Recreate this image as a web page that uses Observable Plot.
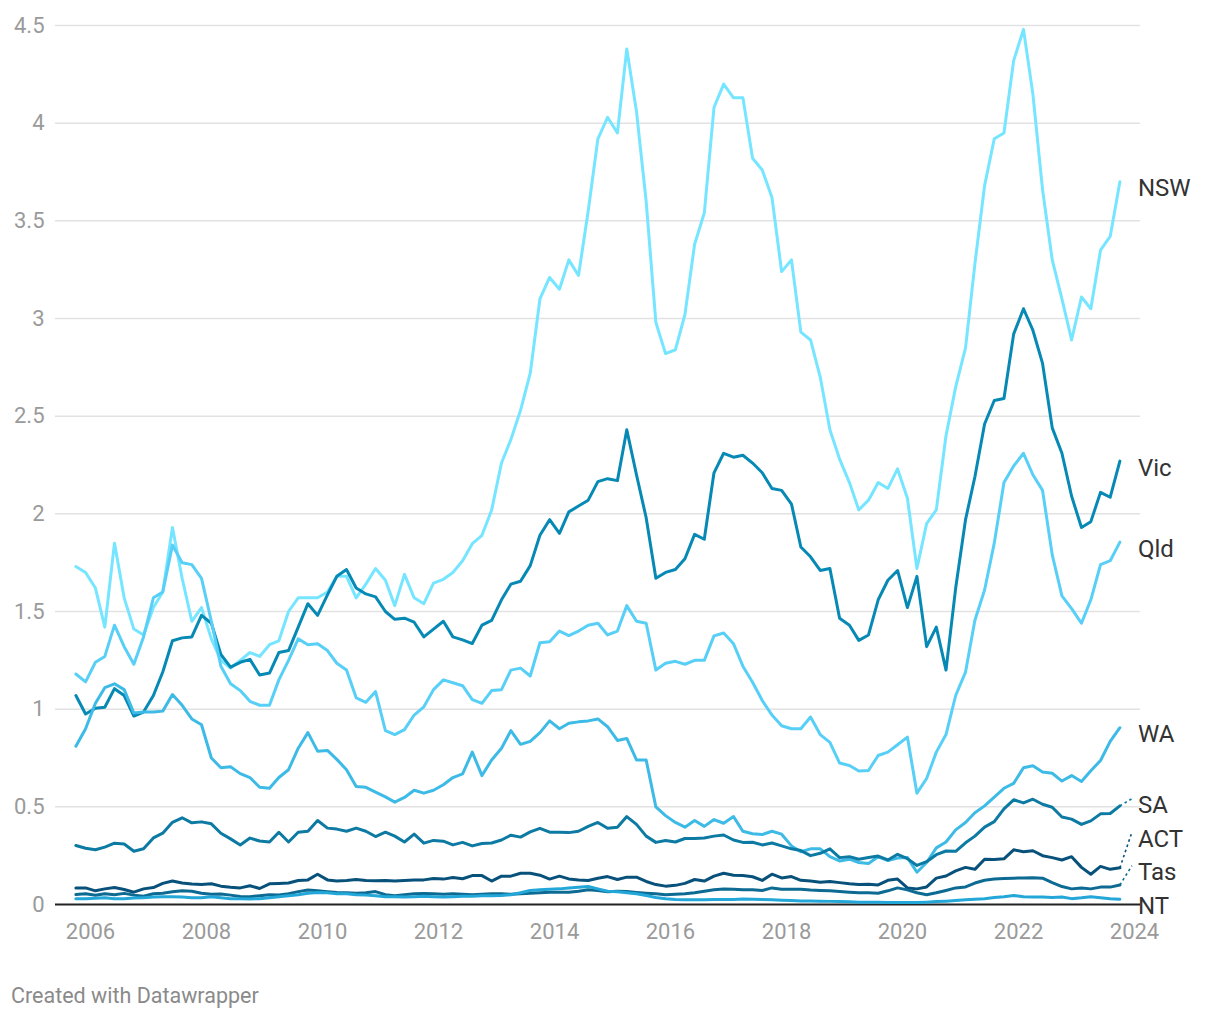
<!DOCTYPE html>
<html><head><meta charset="utf-8">
<script src="https://cdn.jsdelivr.net/npm/d3@7"></script>
<script src="https://cdn.jsdelivr.net/npm/@observablehq/plot@0.6"></script>
<style>
body{margin:0;background:#fff;font-family:Roboto,sans-serif}
#chart{position:absolute;left:0;top:0}
#footer{position:absolute;left:11px;top:983px;font-size:21.5px;color:#8a8a8a;font-family:Roboto,sans-serif}
</style>
</head><body>
<div id="chart"></div>
<div id="footer">Created with Datawrapper</div>
<script>
// Bi-monthly values, first point Oct 2005, last point Oct 2023
const states = ["NSW","Vic","Qld","WA","SA","ACT","Tas","NT"];
const stateColors = ["#76e5ff","#0689b4","#58cff6","#3dbbe6","#0c7aa2","#07517a","#0c6a93","#22a7d8"];
const yTicks = [0,0.5,1,1.5,2,2.5,3,3.5,4,4.5];
const xTickYears = [2006,2008,2010,2012,2014,2016,2018,2020,2022,2024];

const nsw = [1.73,1.70,1.62,1.42,1.85,1.57,1.41,1.38,1.52,1.60,
 1.93,1.67,1.45,1.52,1.36,1.25,1.21,1.25,1.29,1.27,
 1.33,1.35,1.50,1.57,1.57,1.57,1.60,1.68,1.68,1.57,
 1.64,1.72,1.66,1.53,1.69,1.57,1.54,1.645,1.665,1.70,
 1.76,1.847,1.89,2.02,2.26,2.38,2.53,2.72,3.10,3.21,
 3.15,3.30,3.22,3.55,3.92,4.03,3.95,4.38,4.06,3.60,
 2.98,2.82,2.84,3.02,3.38,3.54,4.08,4.20,4.13,4.13,
 3.82,3.76,3.62,3.24,3.30,2.93,2.89,2.70,2.43,2.28,
 2.16,2.02,2.07,2.16,2.13,2.23,2.08,1.72,1.95,2.02,
 2.40,2.65,2.85,3.28,3.68,3.92,3.95,4.32,4.48,4.15,
 3.66,3.30,3.10,2.89,3.11,3.05,3.35,3.42,3.70];
const vic = [1.07,0.975,1.005,1.01,1.105,1.07,0.965,0.985,1.07,1.19,
 1.35,1.365,1.37,1.48,1.44,1.28,1.215,1.24,1.255,1.175,
 1.185,1.29,1.30,1.42,1.54,1.48,1.585,1.68,1.715,1.62,
 1.59,1.575,1.50,1.46,1.466,1.445,1.37,1.41,1.45,1.37,
 1.355,1.336,1.43,1.455,1.56,1.64,1.655,1.735,1.89,1.97,
 1.90,2.01,2.04,2.07,2.165,2.18,2.17,2.43,2.20,1.98,
 1.67,1.70,1.715,1.77,1.895,1.87,2.21,2.31,2.29,2.30,
 2.26,2.21,2.13,2.12,2.05,1.83,1.78,1.71,1.72,1.465,
 1.43,1.352,1.38,1.56,1.66,1.71,1.52,1.68,1.32,1.42,
 1.20,1.62,1.97,2.19,2.46,2.58,2.59,2.92,3.05,2.94,
 2.77,2.44,2.31,2.09,1.93,1.96,2.11,2.085,2.27];
const qld = [1.18,1.14,1.24,1.27,1.43,1.32,1.23,1.37,1.57,1.60,
 1.84,1.75,1.74,1.67,1.45,1.22,1.13,1.095,1.04,1.02,
 1.02,1.15,1.25,1.36,1.33,1.335,1.30,1.235,1.20,1.058,
 1.035,1.09,0.89,0.87,0.895,0.97,1.012,1.10,1.15,1.135,
 1.12,1.049,1.03,1.095,1.10,1.20,1.21,1.17,1.34,1.345,
 1.40,1.377,1.40,1.43,1.44,1.38,1.40,1.53,1.45,1.44,
 1.20,1.235,1.245,1.23,1.25,1.25,1.375,1.39,1.335,1.22,
 1.138,1.044,0.97,0.915,0.90,0.90,0.96,0.87,0.83,0.724,
 0.712,0.683,0.686,0.763,0.78,0.818,0.857,0.57,0.645,0.78,
 0.87,1.07,1.19,1.455,1.61,1.85,2.16,2.245,2.31,2.20,
 2.12,1.79,1.58,1.515,1.44,1.56,1.74,1.76,1.855];
const wa = [0.81,0.90,1.03,1.11,1.13,1.10,0.98,0.985,0.985,0.99,
 1.075,1.02,0.95,0.92,0.75,0.70,0.705,0.67,0.65,0.60,
 0.595,0.65,0.69,0.80,0.88,0.785,0.789,0.743,0.69,0.604,
 0.60,0.575,0.551,0.524,0.548,0.585,0.57,0.585,0.613,0.65,
 0.669,0.78,0.66,0.74,0.80,0.89,0.82,0.835,0.88,0.94,
 0.90,0.928,0.935,0.94,0.95,0.91,0.84,0.85,0.74,0.74,
 0.50,0.455,0.42,0.396,0.43,0.40,0.435,0.416,0.45,0.375,
 0.362,0.358,0.375,0.36,0.30,0.27,0.285,0.285,0.245,0.223,
 0.232,0.215,0.21,0.244,0.225,0.238,0.24,0.165,0.215,0.29,
 0.32,0.382,0.42,0.47,0.505,0.55,0.595,0.62,0.70,0.71,
 0.678,0.672,0.632,0.66,0.63,0.685,0.737,0.835,0.905];
const sa = [0.302,0.288,0.28,0.294,0.314,0.31,0.273,0.285,0.341,0.365,
 0.421,0.444,0.418,0.423,0.413,0.365,0.336,0.305,0.34,0.325,
 0.32,0.37,0.32,0.37,0.375,0.43,0.391,0.386,0.375,0.391,
 0.375,0.348,0.37,0.35,0.32,0.36,0.314,0.328,0.324,0.305,
 0.318,0.30,0.312,0.315,0.33,0.355,0.345,0.372,0.39,0.37,
 0.37,0.368,0.375,0.40,0.42,0.39,0.396,0.45,0.41,0.35,
 0.318,0.328,0.32,0.338,0.338,0.34,0.35,0.356,0.33,0.318,
 0.319,0.305,0.315,0.30,0.285,0.276,0.25,0.262,0.285,0.24,
 0.245,0.232,0.241,0.248,0.228,0.257,0.235,0.20,0.219,0.255,
 0.274,0.272,0.316,0.35,0.396,0.424,0.49,0.536,0.52,0.539,
 0.513,0.498,0.448,0.437,0.41,0.428,0.464,0.466,0.505];
const act = [0.085,0.085,0.07,0.08,0.087,0.077,0.063,0.08,0.087,0.108,
 0.12,0.11,0.105,0.102,0.106,0.094,0.088,0.085,0.096,0.082,
 0.106,0.108,0.11,0.123,0.126,0.155,0.126,0.12,0.123,0.128,
 0.123,0.122,0.123,0.12,0.123,0.126,0.126,0.133,0.13,0.138,
 0.132,0.148,0.148,0.12,0.145,0.145,0.16,0.16,0.15,0.13,
 0.145,0.131,0.126,0.123,0.134,0.143,0.128,0.14,0.14,0.118,
 0.102,0.094,0.098,0.108,0.128,0.12,0.145,0.16,0.15,0.148,
 0.142,0.123,0.155,0.136,0.143,0.124,0.12,0.114,0.118,0.112,
 0.106,0.103,0.104,0.10,0.124,0.13,0.085,0.08,0.09,0.135,
 0.146,0.172,0.19,0.18,0.232,0.23,0.234,0.28,0.27,0.275,
 0.25,0.24,0.228,0.245,0.19,0.155,0.195,0.18,0.188];
const tas = [0.051,0.055,0.047,0.055,0.05,0.057,0.048,0.042,0.055,0.058,
 0.065,0.07,0.068,0.058,0.052,0.054,0.048,0.041,0.04,0.045,
 0.05,0.049,0.055,0.066,0.074,0.07,0.065,0.061,0.06,0.058,
 0.06,0.066,0.05,0.045,0.05,0.055,0.056,0.055,0.052,0.055,
 0.052,0.05,0.052,0.055,0.055,0.052,0.055,0.057,0.06,0.063,
 0.063,0.063,0.068,0.075,0.072,0.065,0.068,0.067,0.062,0.058,
 0.055,0.05,0.052,0.055,0.06,0.068,0.075,0.079,0.078,0.076,
 0.075,0.072,0.085,0.078,0.078,0.078,0.074,0.072,0.07,0.067,
 0.063,0.06,0.06,0.058,0.07,0.085,0.075,0.06,0.05,0.06,
 0.072,0.085,0.09,0.11,0.124,0.13,0.133,0.135,0.136,0.137,
 0.135,0.112,0.092,0.08,0.085,0.08,0.089,0.089,0.10];
const nt = [0.03,0.03,0.032,0.035,0.03,0.03,0.033,0.035,0.038,0.04,
 0.04,0.038,0.035,0.035,0.04,0.035,0.03,0.03,0.028,0.03,
 0.035,0.04,0.045,0.05,0.058,0.062,0.06,0.055,0.055,0.05,
 0.048,0.045,0.04,0.04,0.038,0.04,0.042,0.04,0.038,0.04,
 0.042,0.042,0.045,0.045,0.046,0.05,0.06,0.072,0.075,0.078,
 0.08,0.085,0.088,0.092,0.08,0.068,0.065,0.06,0.055,0.046,
 0.036,0.03,0.026,0.024,0.024,0.024,0.026,0.026,0.026,0.028,
 0.027,0.025,0.024,0.022,0.02,0.018,0.018,0.017,0.016,0.015,
 0.014,0.012,0.012,0.011,0.01,0.01,0.01,0.01,0.012,0.015,
 0.017,0.02,0.024,0.027,0.03,0.036,0.04,0.046,0.04,0.038,
 0.038,0.036,0.038,0.03,0.034,0.04,0.035,0.03,0.027];

const seriesValues = [nsw, vic, qld, wa, sa, act, tas, nt];
const startMonth = new Date(Date.UTC(2005, 9, 1));
const monthStep = 2;

const data = [];
seriesValues.forEach((arr, k) => arr.forEach((v, i) => {
  data.push({state: states[k], date: d3.utcMonth.offset(startMonth, monthStep * i), value: v});
}));

// scale configuration (shared with the label layout helper below)
const xDomain = [new Date(Date.UTC(2006,0,1)), new Date(Date.UTC(2024,0,1))];
const xRange = [90, 1134];
const yDomain = [0, 4.5];
const yRange = [904, 25];
const xs = d3.scaleUtc(xDomain, xRange);
const ys = d3.scaleLinear(yDomain, yRange);

// end labels with simple collision avoidance (Datawrapper style)
const labelGap = 33.5, labelMax = 905;
const ends = states.map((s, k) => {
  const arr = seriesValues[k];
  const date = d3.utcMonth.offset(startMonth, monthStep * (arr.length - 1));
  return {state: s, date, value: arr[arr.length - 1], py: ys(arr[arr.length - 1])};
}).sort((a, b) => b.py - a.py);
let prev = Infinity;
for (const e of ends) {
  const p = Math.min(e.py, labelMax, prev - labelGap);
  e.ly = p; prev = p;
}
ends.forEach(e => {
  e.labelValue = ys.invert(e.ly);
  e.date2 = xs.invert(xs(e.date) + 12);
  e.moved = Math.abs(e.ly - e.py) > 6;
});

const chart = Plot.plot({
  width: 1220, height: 950,
  marginLeft: 55, marginRight: 80, marginTop: 25, marginBottom: 46,
  style: {fontFamily: "Roboto, sans-serif", background: "#fff", overflow: "visible"},
  x: {type: "utc", domain: xDomain, range: xRange, axis: null},
  y: {domain: yDomain, range: yRange, axis: null},
  color: {domain: states, range: stateColors},
  marks: [
    Plot.ruleY(yTicks.filter(d => d > 0), {stroke: "#e2e2e2", strokeWidth: 1.5}),
    Plot.text(yTicks, {y: d => d, text: d => String(d), frameAnchor: "left", dx: -11, textAnchor: "end", fill: "#9a9a9a", fontSize: 22}),
    Plot.text(xTickYears, {x: d => new Date(Date.UTC(d,0,1)), text: d => String(d), frameAnchor: "bottom", dy: 34, textAnchor: "middle", fill: "#9a9a9a", fontSize: 22}),
    Plot.ruleY([0], {stroke: "#222", strokeWidth: 2}),
    Plot.line(data, {x: "date", y: "value", z: "state", stroke: "state", strokeWidth: 3, strokeLinejoin: "round", strokeLinecap: "round"}),
    Plot.link(ends.filter(e => e.moved), {x1: "date", y1: "value", x2: "date2", y2: "labelValue", stroke: "state", strokeWidth: 1.6, strokeDasharray: "2.5,3"}),
    Plot.text(ends, {x: "date", y: "labelValue", text: "state", dx: 18, dy: 7, textAnchor: "start", fill: "#333", fontSize: 24})
  ]
});
document.getElementById("chart").appendChild(chart);
</script>
</body></html>
